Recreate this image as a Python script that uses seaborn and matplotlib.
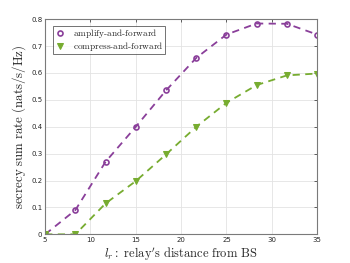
import numpy as np
import pandas as pd
import seaborn as sns
import matplotlib
matplotlib.use("Agg")
import matplotlib.pyplot as plt

# Relay distance values (x axis)
distance = [5, 8.33, 11.67, 15, 18.33, 21.67, 25, 28.33, 31.67, 35]

# Secrecy sum rate for each scheme
af_rate = [0.0, 0.09, 0.27, 0.40, 0.535, 0.656, 0.743, 0.784, 0.783, 0.743]
cf_rate = [0.0, 0.0, 0.115, 0.198, 0.297, 0.40, 0.489, 0.555, 0.591, 0.598]

xticks = [5, 10, 15, 20, 25, 30, 35]
yticks = [0, 0.1, 0.2, 0.3, 0.4, 0.5, 0.6, 0.7, 0.8]

sns.set_style("white")
plt.rcParams['mathtext.fontset'] = 'cm'
plt.rcParams['font.family'] = ['DejaVu Sans']

purple = '#8A3F9A'
green = '#77AC30'

fig = plt.figure(figsize=(3.5, 2.63), dpi=100)
ax = fig.add_axes([0.129, 0.109, 0.777, 0.818])

df = pd.DataFrame({'distance': distance, 'af': af_rate, 'cf': cf_rate})

sns.lineplot(data=df, x='distance', y='af', ax=ax, color=purple, linestyle=(0, (4, 3)),
             linewidth=1.3, marker='o', markersize=3.6, markerfacecolor='none',
             markeredgecolor=purple, markeredgewidth=1.2,
             label=r'$\mathrm{amplify\text{-}and\text{-}forward}$')
sns.lineplot(data=df, x='distance', y='cf', ax=ax, color=green, linestyle=(0, (4, 3)),
             linewidth=1.3, marker='v', markersize=4.2, markerfacecolor=green,
             markeredgecolor=green,
             label=r'$\mathrm{compress\text{-}and\text{-}forward}$')

ax.set_xlim(5, 35)
ax.set_ylim(0, 0.8)
ax.set_xticks(xticks)
ax.set_yticks(yticks)
ax.set_xticklabels([str(t) for t in xticks])
ax.set_yticklabels(['0', '0.1', '0.2', '0.3', '0.4', '0.5', '0.6', '0.7', '0.8'])
ax.tick_params(axis='both', labelsize=5, colors='#262626', direction='in', length=2.5,
               width=0.5, top=True, right=True, pad=2)
ax.grid(True, color='#e3e3e3', linewidth=0.6)
for s in ax.spines.values():
    s.set_color('#7a7a7a')
    s.set_linewidth(0.8)

ax.set_xlabel(r"$l_r\mathrm{:\ relay's\ distance\ from\ BS}$", fontsize=9, labelpad=2)
ax.set_ylabel(r"$\mathrm{secrecy\ sum\ rate\ (nats/s/Hz)}$", fontsize=9.3, labelpad=2)

leg = ax.legend(loc='upper left', bbox_to_anchor=(0.028, 0.97), fontsize=6.7, frameon=True,
                fancybox=False, edgecolor='#333333', borderpad=0.15, labelspacing=0.0,
                handlelength=1.2, handletextpad=0.8, borderaxespad=0.0)
leg.get_frame().set_linewidth(0.6)
for h in leg.legend_handles:
    h.set_linestyle('none')

fig.savefig('out.png', dpi=100)
